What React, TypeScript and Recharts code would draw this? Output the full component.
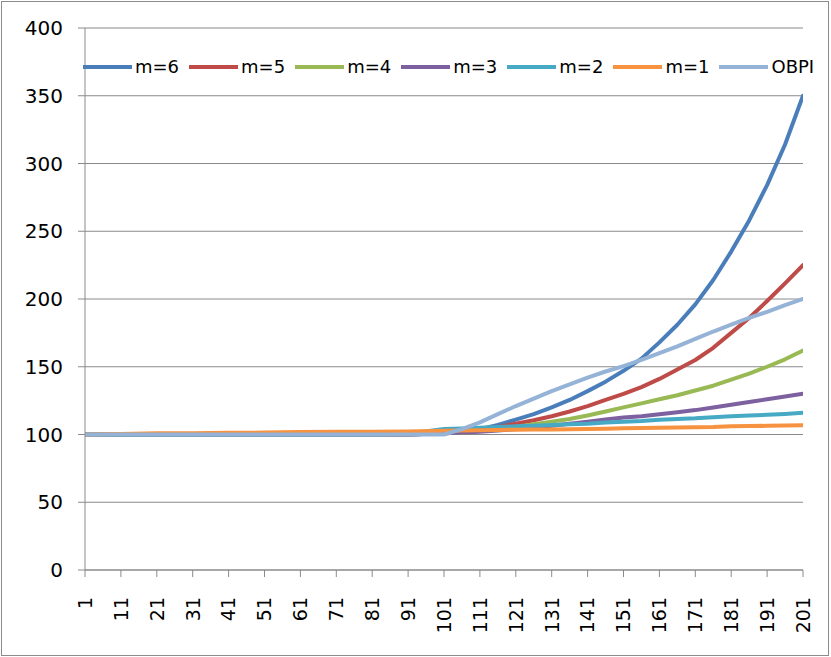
import React from 'react';
import { LineChart, Line, XAxis, YAxis, CartesianGrid } from 'recharts';

const categories = [1, 11, 21, 31, 41, 51, 61, 71, 81, 91, 101, 106, 111, 116, 121, 126, 131, 136, 141, 146, 151, 156, 161, 166, 171, 176, 181, 186, 191, 196, 201];

const m6 = [100, 100, 100, 100, 100, 100, 100, 100, 100, 100, 101, 102, 104, 107, 111, 115, 120, 125.5, 132, 139, 147, 156, 168, 181, 196, 214, 235, 258, 284, 314, 350];
const m5 = [100, 100, 100, 100, 100, 100, 100, 100, 100, 100, 101, 102, 103.5, 105.5, 108, 110.5, 113.5, 117, 121, 125.5, 130, 135, 141, 148, 155, 164, 175, 186, 198.5, 211.5, 225];
const m4 = [100, 100, 100, 100, 100, 100, 100, 100, 100, 100, 101, 101.5, 102.5, 104, 105.5, 107.5, 109.5, 111.5, 114, 117, 120, 123, 126, 129, 132.5, 136, 140.5, 145, 150, 155.5, 162];
const m3 = [100, 100, 100, 100, 100, 100, 100, 100, 100, 100, 101, 101.5, 102, 103, 104, 105, 106.5, 108, 109.5, 111, 112.5, 113.5, 115, 116.5, 118, 120, 122, 124, 126, 128, 130];
const m2 = [100, 100, 100, 100, 100, 100, 100, 100, 100, 100.5, 104, 104.5, 105, 105.5, 106, 106.5, 107, 107.5, 108, 108.8, 109.5, 110, 110.8, 111.5, 112, 112.8, 113.5, 114, 114.5, 115.2, 116];
const m1 = [100, 100.3, 101, 101, 101.2, 101.4, 101.8, 102, 102, 102.2, 102.8, 103, 103.2, 103.4, 103.5, 103.6, 103.7, 103.8, 104, 104.3, 104.7, 104.8, 105, 105.1, 105.3, 105.5, 106, 106.2, 106.4, 106.6, 106.8];
const obpi = [100, 100, 100, 100, 100, 100, 100, 100, 100, 100, 100, 104, 109, 115, 121, 126.5, 132, 137, 142, 146.5, 150.5, 155, 160, 165, 170.5, 176, 181, 186, 190.5, 195.5, 200];

const xTicks = [1, 11, 21, 31, 41, 51, 61, 71, 81, 91, 101, 111, 121, 131, 141, 151, 161, 171, 181, 191, 201];
const yTicks = [0, 50, 100, 150, 200, 250, 300, 350, 400];

const seriesNames = ['m=6', 'm=5', 'm=4', 'm=3', 'm=2', 'm=1', 'OBPI'];
const seriesKeys = ['m6', 'm5', 'm4', 'm3', 'm2', 'm1', 'obpi'];
const seriesColors = ['#4a7ebb', '#be4b48', '#98b954', '#7d60a0', '#46aac5', '#f69240', '#95b3d7'];
const seriesValues = [m6, m5, m4, m3, m2, m1, obpi];

const data = categories.map((c, i) => {
  const row: Record<string, number> = { cat: c };
  seriesKeys.forEach((k, j) => {
    row[k] = seriesValues[j][i];
  });
  return row;
});

const FONT = '"DejaVu Sans", Verdana, sans-serif';

const XTick = (props: any) => {
  const { x, y, payload } = props;
  return (
    <text
      x={x}
      y={y}
      transform={`rotate(-90 ${x} ${y})`}
      textAnchor="end"
      dy="0.36em"
      fontSize={19}
      fontFamily={FONT}
      fill="#000"
    >
      {payload.value}
    </text>
  );
};

const YTick = (props: any) => {
  const { x, y, payload } = props;
  return (
    <text x={x} y={y} textAnchor="end" dy="0.36em" fontSize={20} fontFamily={FONT} fill="#000">
      {payload.value}
    </text>
  );
};

export default function App() {
  return (
    <div style={{ position: 'absolute', left: 0, top: 0, width: 831, height: 657, background: '#fff' }}>
      <LineChart
        width={831}
        height={657}
        data={data}
        margin={{ top: 28, right: 28, bottom: 0, left: 0 }}
      >
        <CartesianGrid horizontal vertical={false} stroke="#8a8a8a" strokeWidth={1} />
        <XAxis
          dataKey="cat"
          type="number"
          domain={[1, 201]}
          ticks={xTicks}
          interval={0}
          height={87}
          tickSize={7}
          tickMargin={20}
          stroke="#8a8a8a"
          tick={<XTick />}
          allowDataOverflow
        />
        <YAxis
          type="number"
          domain={[0, 400]}
          ticks={yTicks}
          interval={0}
          width={85}
          tickSize={7}
          tickMargin={15}
          stroke="#8a8a8a"
          tick={<YTick />}
        />
        {seriesKeys.map((k, j) => (
          <Line
            key={k}
            dataKey={k}
            name={seriesNames[j]}
            type="linear"
            stroke={seriesColors[j]}
            strokeWidth={4}
            strokeLinejoin="round"
            strokeLinecap="round"
            dot={false}
            activeDot={false}
            isAnimationActive={false}
          />
        ))}
      </LineChart>
      <div
        style={{
          position: 'absolute',
          left: 83,
          top: 55,
          display: 'flex',
          alignItems: 'center',
          fontFamily: FONT,
          fontSize: 18,
          color: '#000',
          lineHeight: '24px',
        }}
      >
        {seriesNames.map((n, j) => (
          <div key={n} style={{ display: 'flex', alignItems: 'center', marginLeft: j === 0 ? 0 : 10 }}>
            <div style={{ width: 49, height: 4, background: seriesColors[j] }} />
            <span style={{ marginLeft: 3 }}>{n}</span>
          </div>
        ))}
      </div>
      <div
        style={{
          position: 'absolute',
          left: 1,
          top: 1,
          width: 828,
          height: 655,
          boxSizing: 'border-box',
          border: '1px solid #8c8c8c',
          pointerEvents: 'none',
        }}
      />
    </div>
  );
}
